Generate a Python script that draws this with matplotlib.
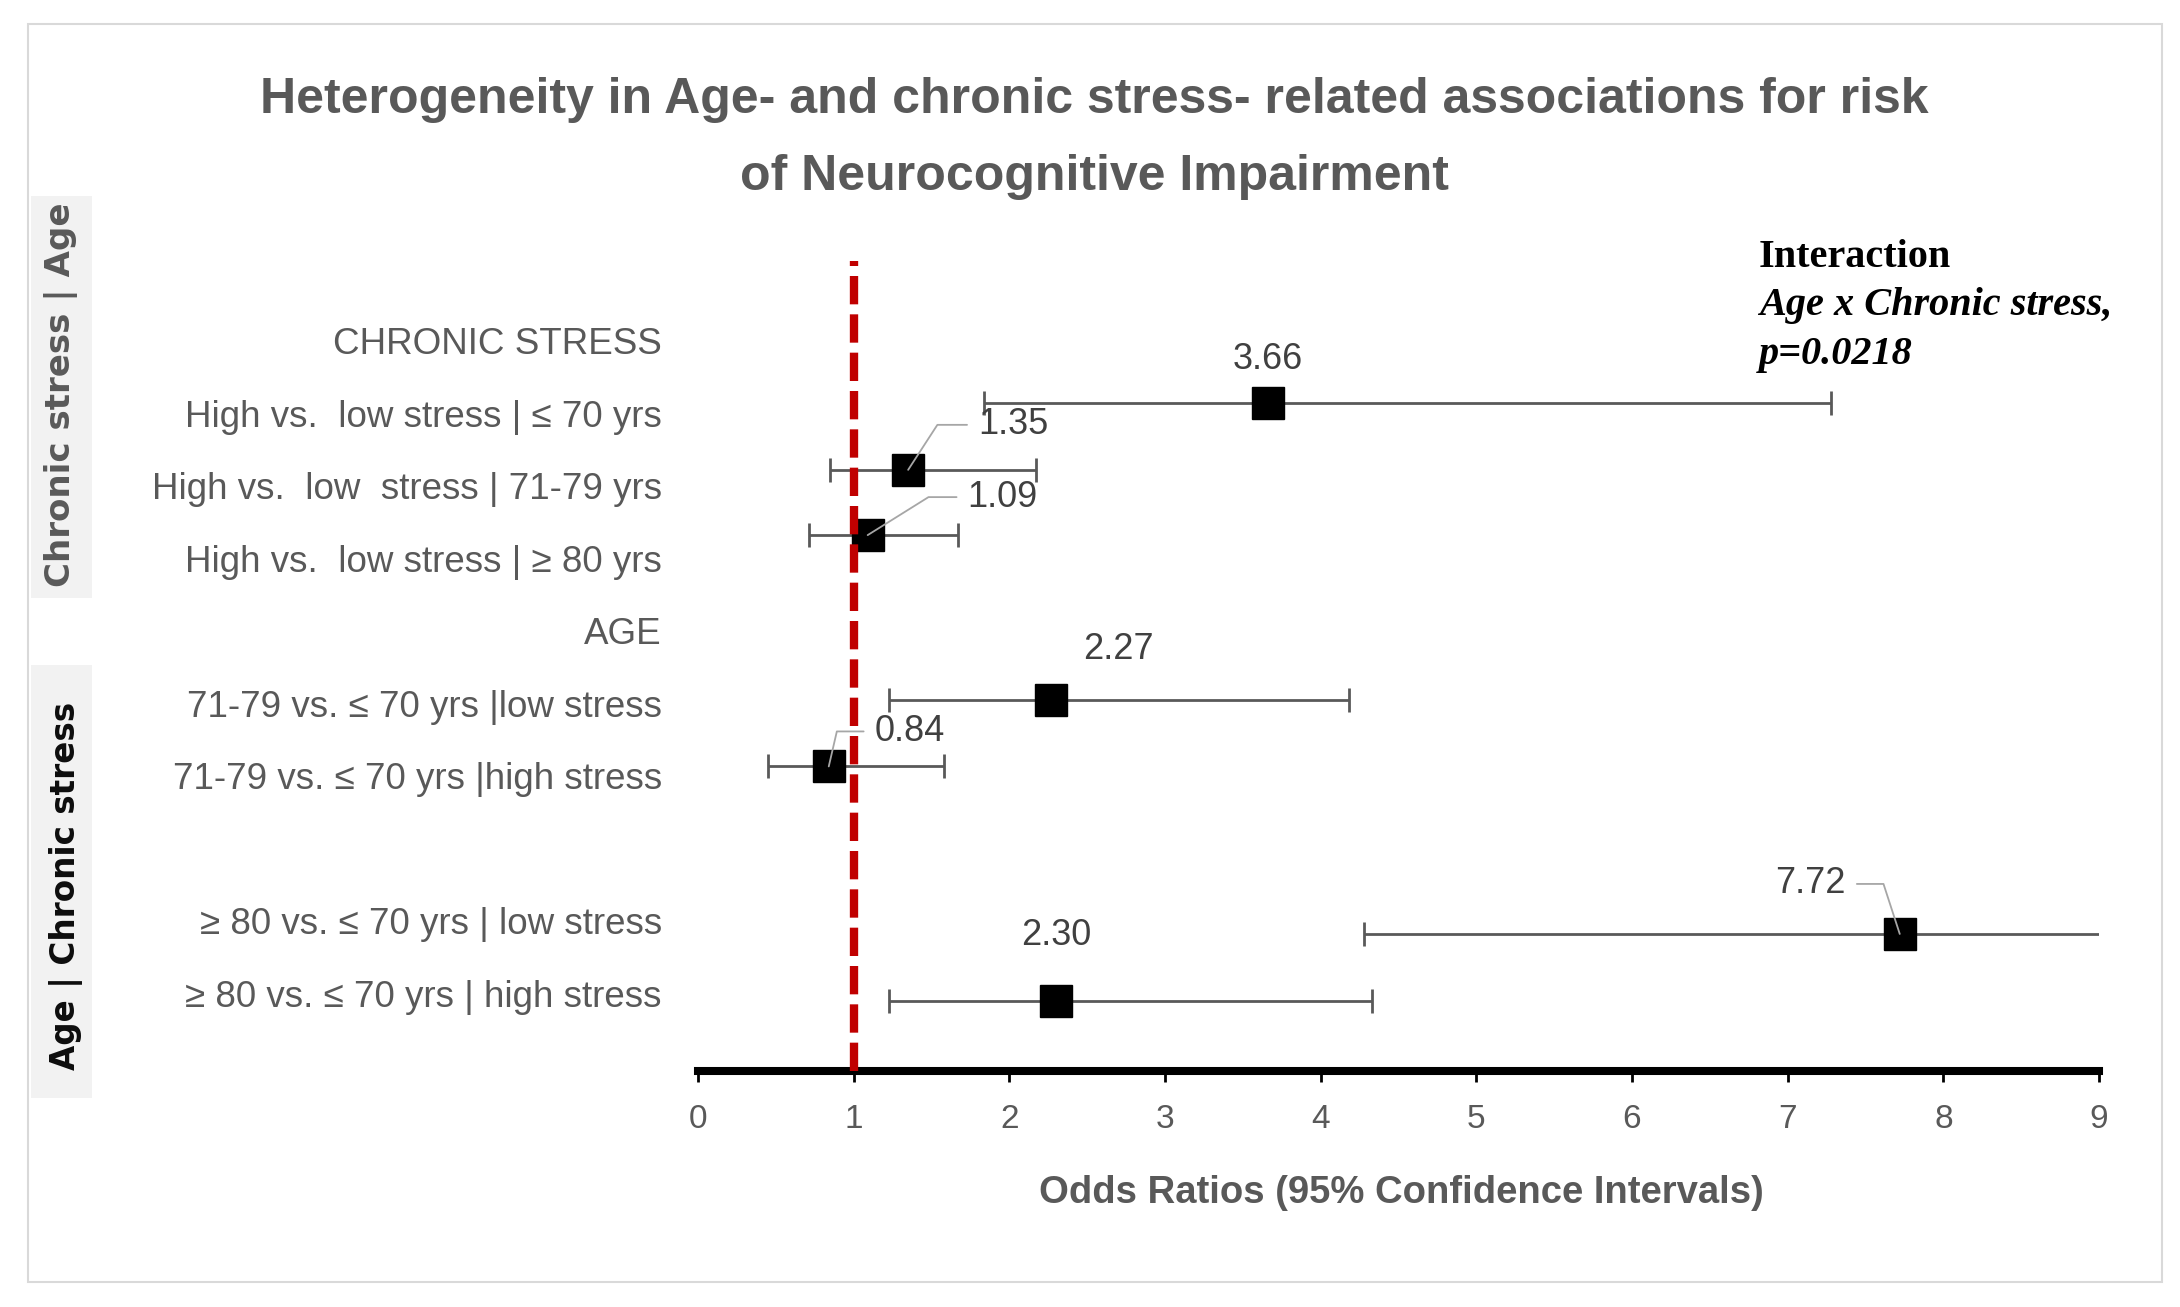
"""Forest plot: age / chronic stress odds ratios for neurocognitive impairment."""

import matplotlib
matplotlib.use("Agg")
import matplotlib.pyplot as plt
from matplotlib.patches import Rectangle

# ---- data ----
TITLE_LINES = [
    "Heterogeneity in Age- and chronic stress- related associations for risk",
    "of Neurocognitive Impairment",
]
row_labels = [
    "CHRONIC STRESS",
    "High vs.  low stress | \u2264 70 yrs",
    "High vs.  low  stress | 71-79 yrs",
    "High vs.  low stress | \u2265 80 yrs",
    "AGE",
    "71-79 vs. \u2264 70 yrs |low stress",
    "71-79 vs. \u2264 70 yrs |high stress",
    "",
    "\u2265 80 vs. \u2264 70 yrs | low stress",
    "\u2265 80 vs. \u2264 70 yrs | high stress",
]
odds_ratio = [3.66, 1.35, 1.09, 2.27, 0.84, 7.72, 2.30]
ci_low = [1.84, 0.85, 0.71, 1.23, 0.45, 4.28, 1.23]
ci_high = [7.28, 2.17, 1.67, 4.18, 1.58, 9.00, 4.33]
point_rows = [0.86, 1.78, 2.68, 4.96, 5.87, 8.18, 9.10]
x_ticks = list(range(10))
x_label = "Odds Ratios (95% Confidence Intervals)"
side_labels = ["Chronic stress | Age", "Age | Chronic stress"]
note_lines = ["Interaction", "Age x Chronic stress,", "p=0.0218"]

# ---- label placement (pixel offsets from the marker) ----
# (dx, dy, ha, leader angle or None)
label_style = [
    (0, 44, "center", None),
    (70, 45, "left", 57),
    (100, 38, "left", 32),
    (67, 51, "center", None),
    (46, 35, "left", 77),
    (-54, 50, "right", 108),
    (0, 65, "center", None),
]

W, H = 2180, 1307
GRAY = "#595959"
SANS = ["Liberation Sans", "DejaVu Sans"]
XMAX = 9


def fx(px):
    return px / W


def fy(py):
    return 1 - py / H


fig = plt.figure(figsize=(W / 100, H / 100), dpi=100)
fig.patch.set_facecolor("white")

# outer frame
fig.patches.append(Rectangle((fx(28), fy(1282)), fx(2162) - fx(28), fy(24) - fy(1282),
                             transform=fig.transFigure, fill=False,
                             edgecolor="#D9D9D9", linewidth=1.5))

# grey side bands with rotated group names
for (y0, y1, tx, ty, fs), txt, col in zip([(196, 598, 61, 395, 24.5), (665, 1098, 66, 886, 23.5)],
                                         side_labels, [GRAY, "#0D0D0D"]):
    fig.patches.append(Rectangle((fx(31), fy(y1)), fx(92) - fx(31), fy(y0) - fy(y1),
                                 transform=fig.transFigure, facecolor="#F2F2F2",
                                 edgecolor="none"))
    fig.text(fx(tx), fy(ty), txt, rotation=90, ha="center", va="center",
             fontsize=fs, fontweight="bold", color=col, family="DejaVu Sans")

for line, y in zip(TITLE_LINES, [100, 177]):
    fig.text(fx(1094), fy(y), line, ha="center", va="center", fontsize=36,
             fontweight="bold", color=GRAY, family=SANS)

ax = fig.add_axes([fx(698), fy(1071), fx(2099) - fx(698), fy(261) - fy(1071)])
ax.set_xlim(0, XMAX)
ax.set_ylim(10.07, -1.10)

# confidence intervals
ax.hlines(point_rows, ci_low, ci_high, color=GRAY, linewidth=2.0, zorder=2)
ax.plot(ci_low, point_rows, linestyle="none", marker="|", markersize=17,
        markeredgewidth=2.0, color=GRAY, zorder=2)
capped = [(h, r) for h, r in zip(ci_high, point_rows) if h < XMAX]
ax.plot([c[0] for c in capped], [c[1] for c in capped], linestyle="none",
        marker="|", markersize=17, markeredgewidth=2.0, color=GRAY, zorder=2)

ax.plot(odds_ratio, point_rows, linestyle="none", marker="s", markersize=23,
        color="black", zorder=3)

# null line
ax.axvline(1, color="#C00000", linewidth=6, linestyle=(0, (3.4, 1.2)), zorder=4)

# value labels
for v, r, (dx, dy, ha, ang) in zip(odds_ratio, point_rows, label_style):
    kw = {}
    if ang is not None:
        kw["arrowprops"] = dict(arrowstyle="-", color="#A6A6A6", linewidth=1.3,
                                shrinkA=6, shrinkB=0,
                                relpos=(0 if ha == "left" else 1, 0.5),
                                connectionstyle=f"angle,angleA=0,angleB={ang},rad=0")
    ax.annotate(f"{v:.2f}", xy=(v, r), xytext=(dx, dy), textcoords="offset pixels",
                ha=ha, va="center", fontsize=26, color="#404040", family=SANS,
                zorder=5, **kw)

ax.set_xticks(x_ticks)
ax.set_yticks(range(len(row_labels)), row_labels)
for s in ["top", "left", "right"]:
    ax.spines[s].set_visible(False)
ax.spines["bottom"].set_linewidth(5.8)
ax.tick_params(axis="x", length=8, width=2, color="black", pad=16,
               labelsize=24, labelcolor=GRAY)
ax.tick_params(axis="y", length=0, pad=26, labelsize=26.5, labelcolor=GRAY)
for t in ax.get_xticklabels() + ax.get_yticklabels():
    t.set_family(SANS)

fig.text(fx(1401), fy(1193), x_label, ha="center", va="center", fontsize=27.5,
         fontweight="bold", color=GRAY, family=SANS)

# interaction note
for txt, y, style in zip(note_lines, [267, 315, 364], ["normal", "italic", "italic"]):
    fig.text(fx(1759), fy(y), txt, ha="left", va="baseline", fontsize=29,
             fontweight="bold", fontstyle=style, color="black",
             family="Liberation Serif")

fig.savefig("out.png", dpi=100)
